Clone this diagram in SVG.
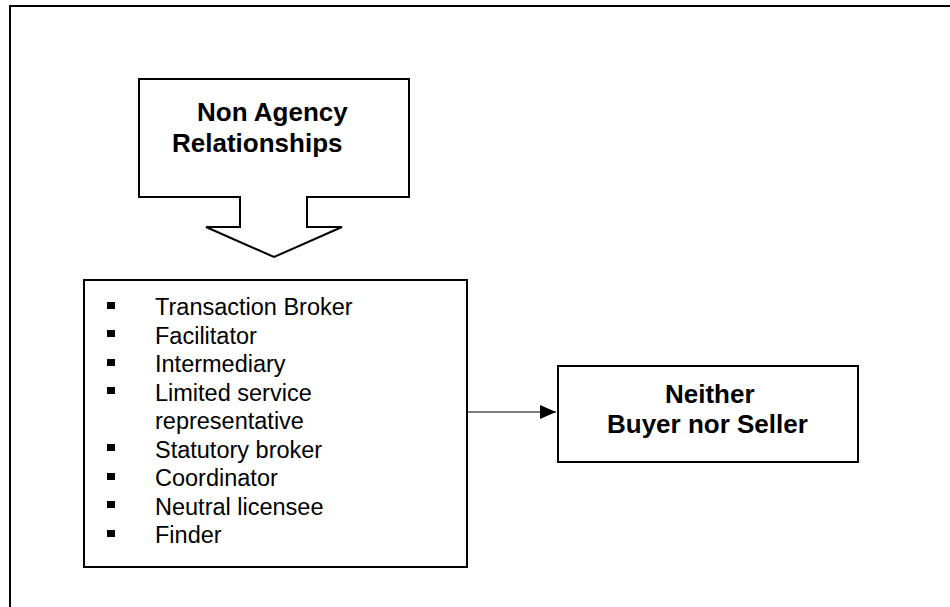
<svg xmlns="http://www.w3.org/2000/svg" width="950" height="607" viewBox="0 0 950 607">
  <style>
    .frame { fill: none; stroke: #000; stroke-width: 2; }
    .box { fill: #fff; stroke: #000; stroke-width: 2; }
    .title { font-family: "Liberation Sans", Arial, sans-serif; font-weight: bold; font-size: 26px; fill: #000; }
    .item { font-family: "Liberation Sans", Arial, sans-serif; font-size: 23.5px; fill: #000; }
    .bullet { fill: #000; }
    .link { stroke: #000; stroke-width: 1.2; fill: none; }
  </style>
  <defs>
    <marker id="arrow" viewBox="0 0 16 14" refX="16" refY="7" markerWidth="16" markerHeight="14" markerUnits="userSpaceOnUse" orient="auto">
      <path d="M0,0 L16,7 L0,14 z" fill="#000"/>
    </marker>
  </defs>

  <rect width="950" height="607" fill="#fff"/>

  <!-- page frame: top and left edges only -->
  <path class="frame" d="M10,607 V6 H950"/>

  <!-- block arrow pointing down -->
  <g id="non-agency">
    <path class="box" d="M139,79 H409 V197 H307 V227 H342 L274,257 L206,227 H240 V197 H139 Z"/>
    <text class="title" x="197" y="121">Non Agency</text>
    <text class="title" x="172" y="152">Relationships</text>
  </g>

  <!-- list of non-agency roles -->
  <g id="roles">
    <rect class="box" x="84" y="280" width="383" height="287"/>
    <g class="bullet">
      <rect x="107" y="302" width="8" height="7"/>
      <rect x="107" y="330" width="8" height="7"/>
      <rect x="107" y="359" width="8" height="7"/>
      <rect x="107" y="387" width="8" height="7"/>
      <rect x="107" y="444" width="8" height="7"/>
      <rect x="107" y="473" width="8" height="7"/>
      <rect x="107" y="501" width="8" height="7"/>
      <rect x="107" y="530" width="8" height="7"/>
    </g>
    <text class="item" x="155" y="315">Transaction Broker</text>
    <text class="item" x="155" y="343.5">Facilitator</text>
    <text class="item" x="155" y="372">Intermediary</text>
    <text class="item" x="155" y="400.5">Limited service</text>
    <text class="item" x="155" y="429">representative</text>
    <text class="item" x="155" y="457.5">Statutory broker</text>
    <text class="item" x="155" y="486">Coordinator</text>
    <text class="item" x="155" y="514.5">Neutral licensee</text>
    <text class="item" x="155" y="543">Finder</text>
  </g>

  <g id="neither">
    <rect class="box" x="558" y="366" width="300" height="96"/>
    <text class="title" x="665" y="403">Neither</text>
    <text class="title" x="607" y="433">Buyer nor Seller</text>
  </g>

  <g id="connectors">
    <line class="link" x1="467" y1="412" x2="556" y2="412" marker-end="url(#arrow)"/>
  </g>
</svg>
